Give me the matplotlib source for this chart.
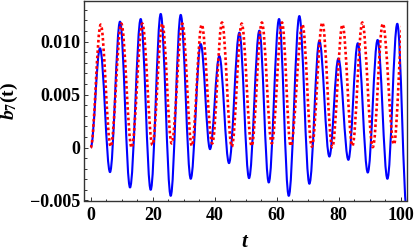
import matplotlib
matplotlib.use('Agg')
import matplotlib.pyplot as plt
from matplotlib.path import Path
from matplotlib.patches import PathPatch, Rectangle
from matplotlib.ticker import MultipleLocator, FixedLocator, FixedFormatter
from matplotlib.font_manager import FontProperties

# ---- data: extrema (t, value) ----
blue_t = [0.0, 3.0, 6.23, 9.45, 12.68, 16.13, 19.35, 22.58, 25.8, 29.03, 32.26,
          35.48, 38.48, 41.48, 44.6, 47.94, 51.06, 54.39, 57.42, 60.74, 63.87,
          67.29, 70.52, 73.74, 76.97, 79.87, 83.1, 86.13, 89.35, 92.52, 95.68,
          98.87, 102.0]
blue_v = [0.0, 0.00938, -0.00232, 0.01189, -0.00377, 0.01214, -0.00399, 0.01262,
          -0.00456, 0.01253, -0.00295, 0.00978, -0.00015, 0.00865, -0.00147,
          0.01085, -0.00289, 0.01104, -0.00330, 0.01214, -0.00456, 0.01242,
          -0.00342, 0.01009, -0.00085, 0.00840, -0.00116, 0.00985, -0.00236,
          0.01016, -0.00295, 0.01169, -0.0062]

red_t = [0.0, 3.23, 6.45, 9.87, 13.2, 16.65, 19.9, 23.1, 26.1, 29.55, 32.6,
         35.8, 39.2, 42.35, 45.5, 48.7, 51.9, 55.2, 58.4, 61.7, 64.5, 68.3,
         71.3, 74.7, 77.9, 81.2, 84.4, 87.6, 90.98, 94.2, 97.8, 100.7]
red_v = [0.0, 0.0116, 0.0001, 0.0117, 0.0000, 0.0117, 0.00025, 0.0117, 0.0004,
         0.0117, 0.00016, 0.0116, 0.0004, 0.0118, 0.0001, 0.0117, 0.00016,
         0.0118, 0.0004, 0.0118, 0.00016, 0.0116, 0.0001, 0.0118, 0.00005,
         0.0116, 0.00016, 0.0118, 0.00005, 0.0117, 0.0003, 0.0117]
red_t_end = 100.0

x_ticks = [0, 20, 40, 60, 80, 100]
x_ticklabels = ['0', '20', '40', '60', '80', '100']
y_ticks = [-0.005, 0.0, 0.005, 0.010]
y_ticklabels = ['\u22120.005', '0', '0.005', '0.010']

plt.rcParams['mathtext.fontset'] = 'custom'
plt.rcParams['mathtext.rm'] = 'Liberation Serif:bold'
plt.rcParams['mathtext.it'] = 'Liberation Serif:italic:bold'
plt.rcParams['mathtext.bf'] = 'Liberation Serif:bold'

TICKFONT = FontProperties(family='Liberation Serif', weight='bold', size=13)
LABELFONT = dict(family='Liberation Serif', weight='bold', size=14)


def smooth_path(ts, vs, k=0.36):
    verts = [(ts[0], vs[0])]
    codes = [Path.MOVETO]
    for i in range(len(ts) - 1):
        dt = ts[i + 1] - ts[i]
        verts += [(ts[i] + k * dt, vs[i]), (ts[i + 1] - k * dt, vs[i + 1]),
                  (ts[i + 1], vs[i + 1])]
        codes += [Path.CURVE4] * 3
    return Path(verts, codes)


fig = plt.figure(figsize=(4.15, 2.52), dpi=100)
ax = fig.add_axes([84 / 415, 1 - 200.5 / 252, (407 - 84) / 415, (200.5 - 1) / 252])
xlim = (-2.16, 102.0)
ylim = (-0.005, 0.01384)
ax.set_xlim(*xlim)
ax.set_ylim(*ylim)

blue = PathPatch(smooth_path(blue_t, blue_v), fill=False, edgecolor=(0, 0, 1),
                 lw=1.5, joinstyle='round', capstyle='butt', zorder=2)
ax.add_patch(blue)

red = PathPatch(smooth_path(red_t, red_v), fill=False, edgecolor=(1, 0, 0),
                lw=1.9, linestyle=(0, (1, 1.0)), capstyle='butt', zorder=3)
ax.add_patch(red)
red.set_clip_path(Rectangle((xlim[0], ylim[0]), red_t_end - xlim[0],
                            ylim[1] - ylim[0], transform=ax.transData))

for s in ax.spines.values():
    s.set_color('#333333')
    s.set_linewidth(1.0)

ax.xaxis.set_major_locator(FixedLocator(x_ticks))
ax.xaxis.set_major_formatter(FixedFormatter(x_ticklabels))
ax.xaxis.set_minor_locator(MultipleLocator(5))
ax.yaxis.set_major_locator(FixedLocator(y_ticks))
ax.yaxis.set_major_formatter(FixedFormatter(y_ticklabels))
ax.yaxis.set_minor_locator(MultipleLocator(0.001))

ax.tick_params(which='both', direction='in', top=False, right=False,
               color='#333333', width=0.7)
ax.tick_params(which='major', length=3.2)
ax.tick_params(which='minor', length=1.8)
ax.tick_params(axis='x', which='major', pad=4.5)
ax.tick_params(axis='y', which='major', pad=2.5)
for lab in ax.get_xticklabels() + ax.get_yticklabels():
    lab.set_fontproperties(TICKFONT)

ax.set_xlabel('$t$', fontsize=15, labelpad=5)
ax.set_ylabel('$b_7$(t)', fontdict=LABELFONT)
ax.yaxis.set_label_coords(-0.197, 0.5)

fig.savefig('out.png', dpi=100)
